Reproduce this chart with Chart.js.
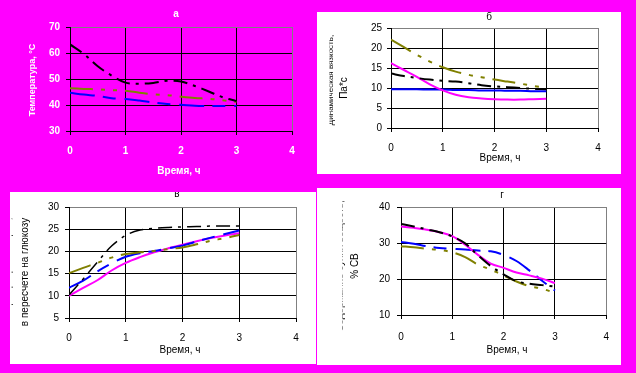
<!DOCTYPE html>
<html>
<head>
<meta charset="utf-8">
<script src="https://cdn.jsdelivr.net/npm/chart.js@4.4.1/dist/chart.umd.min.js"></script>
<style>
  body { margin: 0; width: 636px; height: 373px; overflow: hidden; background: #ff00ff; position: relative; }
  canvas { position: absolute; }
</style>
</head>
<body>
<canvas id="chart-a"></canvas>
<canvas id="chart-b"></canvas>
<canvas id="chart-v"></canvas>
<canvas id="chart-g"></canvas>
<script>
// time points, h (shared by all four panels)
const hours = [0, 0.25, 0.5, 0.75, 1, 1.25, 1.5, 1.75, 2, 2.25, 2.5, 2.75, 3];
const xTicks = [0, 1, 2, 3, 4];

// а — temperature, °C
const tempBlack = [63.3, 59.6, 54.9, 51.3, 48.6, 48.2, 48.5, 49.3, 49.0, 47.3, 45.2, 43.0, 41.5];
const tempOlive = [46.4, 46.2, 46.0, 45.7, 45.5, 44.7, 44.1, 43.8, 43.2, 42.7, 42.4, 41.8, 41.2];
const tempBlue = [44.7, 44.0, 43.5, 42.6, 42.3, 41.7, 41.0, 40.4, 40.1, 39.7, 39.6, 39.6, 39.6];

// б — dynamic viscosity, Pa*s
const viscOlive = [22.1, 20.2, 18.3, 16.6, 15.2, 14.1, 13.3, 12.7, 12.1, 11.6, 11.1, 10.5, 10.1];
const viscBlack = [13.6, 13.0, 12.5, 12.1, 11.8, 11.6, 11.2, 10.7, 10.4, 10.2, 10.0, 9.8, 9.7];
const viscBlue = [9.7, 9.7, 9.7, 9.6, 9.6, 9.5, 9.5, 9.4, 9.4, 9.3, 9.3, 9.2, 9.2];
const viscPink = [16.2, 14.5, 12.8, 10.9, 9.4, 8.3, 7.7, 7.4, 7.2, 7.1, 7.1, 7.2, 7.3];

// в — sugars as glucose
const sugarBlack = [10.2, 13.8, 17.6, 21.2, 23.6, 24.8, 25.2, 25.4, 25.5, 25.6, 25.7, 25.7, 25.7];
const sugarOlive = [15.1, 16.3, 17.4, 18.6, 19.4, 19.8, 20.1, 20.5, 20.9, 21.6, 22.4, 23.0, 23.7];
const sugarBlue = [11.8, 13.4, 15.5, 17.3, 18.8, 19.6, 20.1, 20.7, 21.3, 22.2, 23.1, 23.9, 24.7];
const sugarPink = [10.0, 11.8, 13.5, 15.7, 17.4, 18.7, 19.8, 20.7, 21.5, 22.3, 23.0, 23.6, 24.1];

// г — dry matter, %
const dryBlack = [35.3, 34.6, 33.8, 33.0, 31.8, 29.9, 26.6, 23.6, 21.3, 19.4, 18.7, 18.3, 17.9];
const dryPink = [34.6, 34.2, 33.7, 33.0, 31.9, 29.5, 26.7, 24.3, 23.1, 21.8, 21.0, 20.1, 18.9];
const dryBlue = [30.3, 29.8, 29.1, 28.6, 28.4, 28.2, 27.9, 27.7, 26.7, 25.0, 22.4, 19.5, 16.8];
const dryOlive = [29.1, 28.8, 28.4, 28.1, 27.4, 26.1, 24.0, 22.6, 21.0, 19.3, 18.0, 17.3, 16.1];

const FONT = '"Liberation Sans", Arial, sans-serif';
const GRAY = "#808080";

const STYLE = {
  black: { color: "#000000", dash: [14, 6, 3, 6] },
  olive: { color: "#808000", dash: [23, 8, 4, 8, 4, 8] },
  blue: { color: "#0000ff", dash: [25, 8, 13, 9] },
  blueSolid: { color: "#0000ff", dash: [] },
  pink: { color: "#ff00ff", dash: [] },
};

function line(values, st, width) {
  return {
    data: hours.map((h, i) => ({ x: h, y: values[i] })),
    showLine: true,
    borderColor: st.color,
    borderDash: st.dash,
    borderWidth: width || 2,
    pointRadius: 0,
    tension: 0.35,
    fill: false,
  };
}

// draws titles / axis titles at fixed page positions
function textPlugin(box, texts) {
  return {
    id: "panelText",
    afterDraw(chart) {
      const ctx = chart.ctx;
      texts.forEach((t) => {
        ctx.save();
        if (t.clip != null) {
          ctx.beginPath();
          ctx.rect(t.clip - box.x, 0, box.w, box.h);
          ctx.clip();
        }
        ctx.fillStyle = t.color || "#000";
        ctx.font = t.font || "10px " + FONT;
        ctx.translate(t.x - box.x, t.y - box.y);
        if (t.rot) ctx.rotate(-Math.PI / 2);
        ctx.textAlign = "center";
        ctx.textBaseline = t.base || "middle";
        ctx.fillText(t.text, 0, 0);
        ctx.restore();
      });
    },
  };
}

function panel(id, cfg) {
  const { box, area, y, series, texts, ink, bg, tickFont, xPad, yPad } = cfg;
  const cv = document.getElementById(id);
  cv.width = box.w;
  cv.height = box.h;
  cv.style.left = box.x + "px";
  cv.style.top = box.y + "px";
  cv.style.width = box.w + "px";
  cv.style.height = box.h + "px";
  if (bg) cv.style.background = bg;

  new Chart(cv, {
    type: "scatter",
    data: { datasets: series },
    options: {
      responsive: false,
      animation: false,
      events: [],
      layout: {
        padding: { top: area.t - box.y, right: box.x + box.w - area.r, left: 0, bottom: 0 },
      },
      plugins: { legend: { display: false }, tooltip: { enabled: false } },
      scales: {
        x: {
          type: "linear",
          min: 0,
          max: 4,
          afterBuildTicks: (s) => { s.ticks = xTicks.map((v) => ({ value: v })); },
          afterFit: (s) => { s.height = box.y + box.h - area.b; },
          ticks: { color: ink, font: tickFont, padding: xPad, maxRotation: 0 },
          grid: {
            color: (c) => (c.tick && c.tick.value === 4 ? GRAY : "#000"),
            tickColor: "#000",
            tickLength: 4,
            lineWidth: 1,
          },
          border: { color: "#000", width: 1 },
        },
        y: {
          type: "linear",
          min: y.min,
          max: y.max,
          afterFit: (s) => { s.width = area.l - box.x; },
          ticks: { stepSize: y.step, color: ink, font: tickFont, padding: yPad },
          grid: {
            color: (c) => (c.tick && c.tick.value === y.max ? GRAY : "#000"),
            tickColor: "#000",
            tickLength: 4,
            lineWidth: 1,
          },
          border: { color: "#000", width: 1 },
        },
      },
    },
    plugins: [textPlugin(box, texts)],
  });
}

const plainTicks = { family: FONT, size: 10 };

// а
panel("chart-a", {
  box: { x: 0, y: 0, w: 310, h: 180 },
  area: { l: 70, t: 27, r: 292, b: 131 },
  y: { min: 30, max: 70, step: 10 },
  ink: "#ffffff",
  tickFont: { family: FONT, size: 10, weight: "bold" },
  xPad: 10,
  yPad: 6,
  series: [line(tempBlack, STYLE.black), line(tempOlive, STYLE.olive), line(tempBlue, STYLE.blue)],
  texts: [
    { text: "а", x: 176, y: 14, color: "#fff", font: "bold 10px " + FONT },
    { text: "Время, ч", x: 179, y: 171, color: "#fff", font: "bold 10px " + FONT },
    { text: "Температура, °С", x: 33, y: 80, rot: true, color: "#fff", font: "bold 9px " + FONT },
  ],
});

// б
panel("chart-b", {
  box: { x: 317, y: 12, w: 304, h: 162 },
  area: { l: 391, t: 28, r: 598, b: 128 },
  y: { min: 0, max: 25, step: 5 },
  ink: "#000",
  bg: "#fff",
  tickFont: plainTicks,
  xPad: 10,
  yPad: 5,
  series: [line(viscOlive, STYLE.olive), line(viscBlack, STYLE.black), line(viscPink, STYLE.pink), line(viscBlue, STYLE.blueSolid)],
  texts: [
    { text: "б", x: 489, y: 17 },
    { text: "Время, ч", x: 500, y: 158 },
    { text: "Па*с", x: 344, y: 88, rot: true },
    { text: "Динамическая вязкость,", x: 333, y: 80, rot: true, base: "alphabetic", clip: 329.5, font: "8px " + FONT },
  ],
});

// в
panel("chart-v", {
  box: { x: 10, y: 192, w: 306, h: 172 },
  area: { l: 69, t: 207, r: 296, b: 318 },
  y: { min: 5, max: 30, step: 5 },
  ink: "#000",
  bg: "#fff",
  tickFont: plainTicks,
  xPad: 10,
  yPad: 6,
  series: [line(sugarBlack, STYLE.black, 1.5), line(sugarOlive, STYLE.olive), line(sugarBlue, STYLE.blue), line(sugarPink, STYLE.pink)],
  texts: [
    { text: "в", x: 177, y: 194 },
    { text: "Время, ч", x: 180, y: 350 },
    { text: "в пересчете на глюкозу", x: 25, y: 272, rot: true },
    { text: "Концентрация сахаров,", x: 11, y: 272, rot: true, base: "alphabetic", clip: 11.5 },
  ],
});

// г
panel("chart-g", {
  box: { x: 317, y: 188, w: 304, h: 177 },
  area: { l: 401, t: 207, r: 612, b: 315 },
  y: { min: 10, max: 40, step: 10 },
  ink: "#000",
  bg: "#fff",
  tickFont: plainTicks,
  xPad: 12,
  yPad: 7,
  series: [line(dryBlack, STYLE.black), line(dryPink, STYLE.pink), line(dryBlue, STYLE.blue), line(dryOlive, STYLE.olive)],
  texts: [
    { text: "г", x: 502, y: 195 },
    { text: "Время, ч", x: 507, y: 350 },
    { text: "% СВ", x: 355, y: 266, rot: true },
    { text: "Содержание сухих веществ,", x: 343, y: 266, rot: true, base: "alphabetic", clip: 342.5 },
  ],
});
</script>
</body>
</html>
